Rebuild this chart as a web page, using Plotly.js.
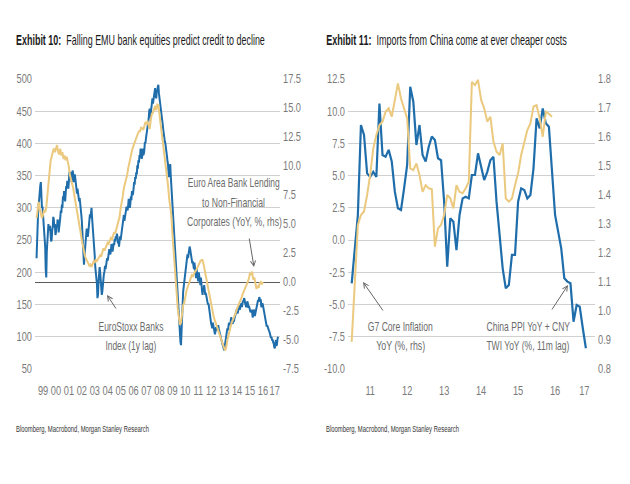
<!DOCTYPE html>
<html><head><meta charset="utf-8">
<script src="https://cdn.plot.ly/plotly-3.0.1.min.js"></script>
<style>html,body{margin:0;padding:0;background:#fff}</style>
</head><body><div id="chart" style="width:630px;height:484px"></div>
<script>
// ---------- Exhibit 10 data ----------
// EuroStoxx Banks index (1y lag), twice a month from Jan 1999
const ex10BankStart = 1999;
const euroStoxxBanks = [
  222,262,285,296,305,322,318,335,340,312,300,302,290,270,262,248,240,205,192,232,255,262,275,265,
  268,272,260,248,250,265,270,286,282,270,275,258,262,274,270,282,278,262,268,280,285,296,292,305,
  300,318,312,326,322,310,318,334,330,342,335,330,342,356,350,344,356,340,348,358,352,340,345,352,
  345,338,335,322,330,325,322,310,315,300,305,290,280,258,245,225,212,226,238,250,255,268,263,255,
  262,270,275,290,284,296,300,285,275,262,250,232,225,208,200,190,182,160,165,185,195,208,201,185,
  175,165,170,185,192,198,201,210,205,214,212,222,218,224,227,236,230,228,235,244,240,232,238,245,
  242,252,248,256,252,260,256,245,250,240,246,256,250,258,262,270,275,282,289,280,285,292,295,302,
  299,296,304,314,310,300,306,318,312,326,320,322,330,340,336,348,345,355,352,366,361,374,370,382,
  378,392,387,376,380,392,382,384,390,402,400,408,413,420,425,434,438,450,454,440,448,462,466,470,
  462,470,475,482,486,474,470,480,482,488,491,478,472,466,458,455,449,438,430,422,412,408,403,400,
  395,385,380,372,367,352,348,362,368,350,336,318,300,290,270,258,240,232,217,198,185,165,154,140,
  125,112,105,92,87,102,120,150,170,178,185,198,205,212,217,224,228,222,232,238,240,236,230,228,
  222,214,217,208,205,215,210,198,191,205,198,190,186,200,195,184,180,192,186,172,165,176,172,180,
  175,165,168,162,160,155,150,152,144,136,130,126,120,117,113,122,118,112,110,104,108,115,112,110,
  115,118,113,108,105,100,98,95,92,88,85,82,79,84,90,96,100,108,113,110,118,122,120,118,
  123,130,128,122,120,126,123,128,130,134,138,142,144,136,140,146,149,142,145,150,152,146,150,156,
  154,160,158,152,150,146,149,155,152,145,148,142,144,138,140,142,138,130,134,142,140,132,136,140,
  144,148,150,157,155,161,160,154,158,146,150,152,149,144,140,134,130,126,123,116,118,114,112,110,
  108,102,104,98,100,94,96,91,90,84,82,90,95,86,88,96,100
];
// Euro Area bank lending to NFCs (YoY %, rhs), monthly from Jan 1999
const ex10LendStart = 1999;
const euroAreaLending = [
  5.5,6.2,6.9,6.3,5.9,5.5,5.8,6.2,6.0,6.4,7.4,8.6,
  9.5,10.4,10.8,11.3,11.5,11.2,11.6,11.8,11.2,11.0,11.5,10.9,
  11.2,10.6,10.9,10.5,10.8,10.4,9.9,9.2,8.9,8.5,8.1,7.5,
  7.0,6.5,5.9,5.3,4.7,4.2,3.6,3.0,2.6,2.2,2.0,1.7,
  1.6,1.4,1.5,1.3,1.6,1.8,1.7,1.9,1.8,2.0,2.1,2.3,
  2.2,2.5,2.9,2.7,3.0,3.2,3.4,3.3,3.6,3.8,3.7,4.1,
  4.3,4.2,4.6,4.9,5.2,5.6,6.35,6.8,7.4,8.1,8.4,8.9,
  9.2,9.8,10.3,10.95,11.1,11.5,11.8,12.1,12.4,12.6,12.8,13.0,
  13.0,13.3,13.25,13.1,13.5,13.8,13.6,13.9,13.5,13.2,14.0,14.5,
  14.6,15.0,15.2,14.8,15.3,15.25,14.5,13.5,12.8,12.0,11.5,10.8,
  10.0,9.2,8.3,7.2,6.5,5.8,4.2,2.8,1.2,-0.1,-1.2,-2.3,
  -3.0,-3.7,-3.5,-2.8,-2.0,-1.8,-1.2,-0.8,-0.5,-0.2,0.0,0.3,
  0.6,0.5,0.8,0.9,1.0,1.2,1.5,1.6,1.8,1.9,1.9,1.5,
  1.0,0.6,0.1,-0.4,-1.1,-1.6,-2.1,-2.6,-2.85,-3.2,-3.5,-3.7,
  -4.0,-4.3,-4.6,-4.9,-5.2,-5.4,-5.7,-5.9,-5.6,-5.0,-4.6,-4.2,
  -3.7,-3.5,-3.3,-3.1,-2.9,-2.6,-2.3,-2.1,-1.9,-1.7,-1.4,-1.1,
  -0.8,-0.6,-0.4,-0.2,0.0,0.3,0.8,0.6,0.9,0.2,0.4,-0.2,
  -0.6,-0.3,-0.5,-0.1,0.0,-0.2,0.0
];
const ex10YearLabels = ['99','00','01','02','03','04','05','06','07','08','09','10','11','12','13','14','15','16','17'];
const ex10LeftTicks = [50,100,150,200,250,300,350,400,450,500];
const ex10RightTicks = [-7.5,-5,-2.5,0,2.5,5,7.5,10,12.5,15,17.5];

// ---------- Exhibit 11 data (monthly, starting Jan 2011) ----------
const ex11Start = 2011;
const chinaPPIplusCNY = [
  -3.35,-0.7,1.95,8.93,8.16,5.18,4.9,5.3,4.9,10.6,6.6,6.47,
  7.0,6.1,3.76,2.47,2.34,4.02,5.83,11.9,10.74,7.38,8.93,6.6,
  6.09,7.25,8.03,7.77,6.35,6.2,2.98,-2.06,1.7,1.43,-0.77,1.95,
  3.24,3.37,3.24,5.05,5.05,6.73,5.7,4.66,5.3,6.2,6.47,2.98,
  0.4,-2.19,-3.74,-3.48,-1.15,-1.15,2.98,4.02,3.89,3.24,3.5,5.57,
  9.45,8.67,10.22,9.06,8.8,5.05,1.95,0.66,-0.64,-2.96,-3.22,-3.35,
  -6.33,-5.03,-5.16,-6.84,-8.39
];
const g7CoreInflation = [
  0.894,1.101,1.297,1.331,1.343,1.40,1.469,1.561,1.607,1.641,1.653,1.687,
  1.699,1.67,1.73,1.785,1.733,1.699,1.664,1.492,1.486,1.509,1.469,1.411,
  1.434,1.423,1.42,1.222,1.285,1.297,1.331,1.40,1.389,1.354,1.434,1.411,
  1.406,1.423,1.446,1.79,1.779,1.797,1.728,1.699,1.653,1.67,1.584,1.549,
  1.538,1.578,1.388,1.377,1.388,1.434,1.475,1.538,1.584,1.624,1.647,1.705,
  1.71,1.664,1.601,1.687,1.68,1.67
];
const ex11YearLabels = ['11','12','13','14','15','16','17'];
const ex11LeftTicks = [-10,-7.5,-5,-2.5,0,2.5,5,7.5,10,12.5];
const ex11RightTicks = [0.8,0.9,1.0,1.1,1.2,1.3,1.4,1.5,1.6,1.7,1.8];

// ---------- helpers ----------
const series = (start, perYear, arr) => arr.map((_, i) => start + i / perYear);
const fmt1 = v => v.toFixed(1);

const BLUE = '#1f6eab';
const GOLD = '#ebc97e';
const FONT = 'Liberation Sans, Arial, sans-serif';
const TICKC = '#7a7a7a';
const GRID = '#d0d0d0';
const NARROW = 0.74;   // default horizontal condensing (reference uses a narrow face)

const ex10Range = [1998.88, 2017.82];
const ex10TickVals = ex10YearLabels.map((_, i) => 1999 + i + 0.5);
ex10TickVals[ex10TickVals.length - 1] = (2017 + ex10Range[1]) / 2;
const ex11Range = [2010.9, 2017.58];
const ex11TickVals = ex11YearLabels.map((_, i) => ex11Start + i + 0.5);
ex11TickVals[ex11TickVals.length - 1] = (2017 + ex11Range[1]) / 2;

const traces = [
  {x: series(ex10BankStart, 24, euroStoxxBanks), y: euroStoxxBanks, xaxis: 'x', yaxis: 'y',
   type: 'scatter', mode: 'lines', line: {color: BLUE, width: 2}, hoverinfo: 'skip'},
  {x: series(ex10LendStart, 12, euroAreaLending), y: euroAreaLending, xaxis: 'x', yaxis: 'y2',
   type: 'scatter', mode: 'lines', line: {color: GOLD, width: 2}, hoverinfo: 'skip'},
  {x: series(ex11Start, 12, g7CoreInflation), y: g7CoreInflation, xaxis: 'x2', yaxis: 'y4',
   type: 'scatter', mode: 'lines', line: {color: GOLD, width: 2}, hoverinfo: 'skip'},
  {x: series(ex11Start, 12, chinaPPIplusCNY), y: chinaPPIplusCNY, xaxis: 'x2', yaxis: 'y3',
   type: 'scatter', mode: 'lines', line: {color: BLUE, width: 2.2}, hoverinfo: 'skip'}
];

const W = 630, H = 484;
const px = v => v / W, py = v => 1 - v / H;
const plotTop = 79, plotBot = 369;
const yDom = [py(plotBot), py(plotTop)];

const tickFont = {family: FONT, size: 12.5, color: TICKC};
const baseY = {showgrid: true, gridcolor: GRID, gridwidth: 1, zeroline: false, showline: false,
  ticks: '', tickfont: tickFont, fixedrange: true};
const noGridY = Object.assign({}, baseY, {showgrid: false});
const baseX = {showgrid: false, zeroline: false, showline: false, ticks: '', tickfont: tickFont,
  tickangle: 0, ticklabelstandoff: 13, fixedrange: true};

const txt = (text, x, y, opts) => Object.assign({
  text: text, x: px(x), y: py(y), xref: 'paper', yref: 'paper', showarrow: false,
  xanchor: 'center', yanchor: 'middle', font: {family: FONT, size: 12.5, color: '#6b6b6b'}
}, opts || {});
const arrow = (tx, ty, hx, hy) => ({
  text: '', x: px(hx), y: py(hy), xref: 'paper', yref: 'paper', showarrow: true,
  ax: tx - hx, ay: ty - hy, axref: 'pixel', ayref: 'pixel',
  arrowhead: 5, arrowsize: 1, arrowwidth: 1, arrowcolor: '#666'
});

const TITLE10 = 'Exhibit 10:\u00a0 Falling EMU bank equities predict credit to decline';
const TITLE11 = 'Exhibit 11:\u00a0 Imports from China come at ever cheaper costs';
const SOURCE = 'Bloomberg, Macrobond, Morgan Stanley Research';

// reference widths (px) of the longer texts
const targetWidth = {};
targetWidth[TITLE10] = 249;
targetWidth[TITLE11] = 241;
targetWidth[SOURCE] = 133;
Object.assign(targetWidth, {
  'Euro Area Bank Lending': 92, 'to Non-Financial': 63, 'Corporates (YoY, %, rhs)': 95,
  'EuroStoxx Banks': 65, 'Index (1y lag)': 51, 'G7 Core Inflation': 65, 'YoY (%, rhs)': 49,
  'China PPI YoY + CNY': 84, 'TWI YoY (%, 11m lag)': 83
});

const layout = {
  width: W, height: H, margin: {l: 0, r: 0, t: 0, b: 0},
  paper_bgcolor: '#fff', plot_bgcolor: 'rgba(0,0,0,0)', showlegend: false,
  font: {family: FONT},
  xaxis: Object.assign({}, baseX, {domain: [px(35), px(280)], range: ex10Range, anchor: 'y',
    tickvals: ex10TickVals, ticktext: ex10YearLabels}),
  yaxis: Object.assign({}, baseY, {domain: yDom, range: [50, 500], anchor: 'x',
    tickvals: ex10LeftTicks, ticktext: ex10LeftTicks.map(String), ticklabelstandoff: 2}),
  yaxis2: Object.assign({}, noGridY, {overlaying: 'y', side: 'right', anchor: 'x', range: [-7.5, 17.5],
    tickvals: ex10RightTicks, ticktext: ex10RightTicks.map(fmt1), ticklabelstandoff: 2,
    zeroline: true, zerolinecolor: '#5a5a5a', zerolinewidth: 1}),
  xaxis2: Object.assign({}, baseX, {domain: [px(348), px(595)], range: ex11Range, anchor: 'y3',
    tickvals: ex11TickVals, ticktext: ex11YearLabels}),
  yaxis3: Object.assign({}, baseY, {domain: yDom, range: [-10, 12.5], anchor: 'x2',
    tickvals: ex11LeftTicks, ticktext: ex11LeftTicks.map(fmt1), ticklabelstandoff: 2}),
  yaxis4: Object.assign({}, noGridY, {overlaying: 'y3', side: 'right', anchor: 'x2', range: [0.8, 1.8],
    tickvals: ex11RightTicks, ticktext: ex11RightTicks.map(fmt1), ticklabelstandoff: 2}),
  annotations: [
    txt(TITLE10.replace('Exhibit 10:', '<b>Exhibit 10:</b>'), 14, 40,
      {xanchor: 'left', font: {family: FONT, size: 14, color: '#1a1a1a'}}),
    txt(TITLE11.replace('Exhibit 11:', '<b>Exhibit 11:</b>'), 324, 40,
      {xanchor: 'left', font: {family: FONT, size: 14, color: '#1a1a1a'}}),
    txt(SOURCE, 14, 429, {xanchor: 'left', font: {family: FONT, size: 9, color: '#333'}}),
    txt(SOURCE, 324, 429, {xanchor: 'left', font: {family: FONT, size: 9, color: '#333'}}),
    txt('Euro Area Bank Lending', 234, 183),
    txt('to Non-Financial', 233, 203),
    txt('Corporates (YoY, %, rhs)', 234, 222),
    arrow(249, 237, 254, 267),
    txt('EuroStoxx Banks', 131, 327),
    txt('Index (1y lag)', 131, 346),
    arrow(117, 310, 107, 295),
    txt('G7 Core Inflation', 400, 327),
    txt('YoY (%, rhs)', 400, 346),
    arrow(384, 312, 363, 282),
    txt('China PPI YoY + CNY', 528, 327),
    txt('TWI YoY (%, 11m lag)', 528, 346),
    arrow(551, 311, 568, 285)
  ]
};

// condense every text horizontally around its anchor (left-anchored texts keep their left edge).
// Idempotent: the transform Plotly set is remembered, so re-running never compounds the scale.
function condense(gd) {
  gd.querySelectorAll('text').forEach(t => {
    const cur = t.getAttribute('transform') || '';
    if (t.dataset.condensed && cur === t.dataset.condensed) return;
    const base = cur;
    t.removeAttribute('transform');
    if (base) t.setAttribute('transform', base);
    const bb = t.getBBox();
    if (!bb.width) return;
    const s = (t.textContent || '').trim();
    const anchor = t.getAttribute('text-anchor') || 'start';
    const k = targetWidth[s] ? targetWidth[s] / bb.width : NARROW;
    let pivot;
    if (/^(Exhibit|Bloomberg)/.test(s)) pivot = bb.x;
    else if (anchor === 'end') pivot = bb.x + bb.width;
    else if (anchor === 'middle') pivot = bb.x + bb.width / 2;
    else pivot = bb.x;
    const next = base + ' translate(' + pivot + ',0) scale(' + k + ',1) translate(' + (-pivot) + ',0)';
    t.setAttribute('transform', next);
    t.dataset.condensed = next;
  });
}

Plotly.newPlot('chart', traces, layout, {displayModeBar: false, staticPlot: true}).then(gd => {
  condense(gd);
  gd.on('plotly_afterplot', () => condense(gd));
  setTimeout(() => condense(gd), 50);
});
</script>
</body></html>
